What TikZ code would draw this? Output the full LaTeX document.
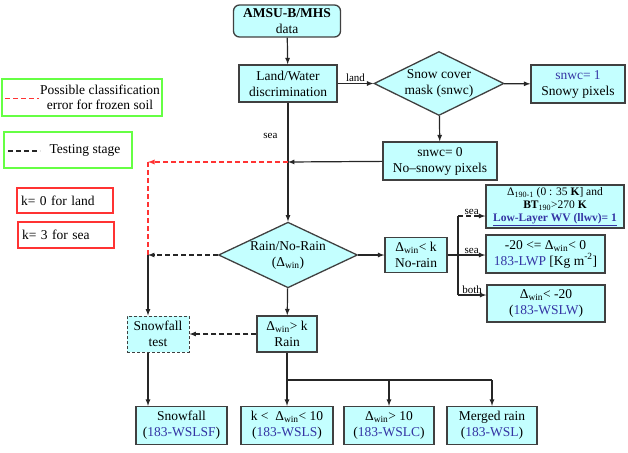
\documentclass[tikz,border=0pt]{standalone}
\usepackage{fontspec}
\setmainfont{Liberation Serif}
\usetikzlibrary{shapes.geometric}

\definecolor{boxfill}{HTML}{C4FFFF}
\definecolor{boxline}{HTML}{404040}
\definecolor{wsblue}{HTML}{3434A4}
\definecolor{keygreen}{HTML}{66FF44}
\definecolor{keyred}{HTML}{FF3333}

\tikzset{
  flowbox/.style = {draw = boxline, fill = boxfill, line width = 1.3pt, align = center,
                    inner sep = 1pt, font = \fontsize{13.5}{16}\selectfont},
  choice/.style  = {diamond, aspect = 2, draw = boxline, fill = boxfill, line width = 1.3pt,
                    align = center, inner sep = 0pt, font = \fontsize{13.5}{16}\selectfont},
  wire/.style    = {line width = 1.2pt, draw = black!85},
  testing/.style = {wire, dash pattern = on 5pt off 3pt},
  frozen/.style  = {line width = 1.3pt, draw = keyred, dash pattern = on 5pt off 3pt},
  keybox/.style  = {draw = keygreen, line width = 1.5pt},
  kbox/.style    = {draw = keyred, line width = 1.5pt, align = left, inner sep = 0pt,
                    font = \fontsize{13.5}{16}\selectfont},
  keytext/.style = {align = center, font = \fontsize{13.5}{15}\selectfont},
  branchlabel/.style = {inner sep = 1pt, font = \fontsize{11}{12}\selectfont}
}

\begin{document}
\begin{tikzpicture}[x = 1pt, y = -1pt, >= latex]
  \useasboundingbox (0, 0) rectangle (628, 452);

  \node[flowbox, rounded corners = 6pt, minimum width = 107, minimum height = 32] (amsu) at (287, 21)
    {\textbf{AMSU-B/MHS}\\data};
  \node[flowbox, minimum width = 98, minimum height = 37] (landwater) at (288, 83.5)
    {Land/Water\\discrimination};
  \node[choice, minimum width = 130, minimum height = 64] (snow) at (439, 83.5)
    {Snow cover\\mask (snwc)};
  \node[flowbox, minimum width = 94, minimum height = 38] (snowy) at (578, 84)
    {{\color{wsblue}snwc= 1}\\Snowy pixels};
  \node[flowbox, minimum width = 114, minimum height = 38] (nosnowy) at (440, 161)
    {snwc= 0\\No--snowy pixels};

  \node[choice, minimum width = 139, minimum height = 64] (rain) at (288, 255)
    {Rain/No-Rain\\(Δ\textsubscript{win})};
  \node[flowbox, minimum width = 62, minimum height = 35] (norain) at (416, 255)
    {Δ\textsubscript{win}< k\\No-rain};
  \node[flowbox, minimum width = 138, minimum height = 43, font = \fontsize{11.5}{13}\selectfont] (llwv) at (555, 206.5)
    {Δ\textsubscript{190-1} (0 : 35 \textbf{K}] and\\\textbf{BT}\textsubscript{190}>270 \textbf{K}\\{\color{wsblue}\textbf{\underline{Low-Layer WV (llwv)= 1}}}};
  \node[flowbox, minimum width = 119, minimum height = 38] (lwp) at (545.5, 254)
    {-20 <= Δ\textsubscript{win}< 0\\{\color{wsblue}183-LWP} [Kg m\textsuperscript{-2}]};
  \node[flowbox, minimum width = 118, minimum height = 37] (wslw) at (546, 303.5)
    {Δ\textsubscript{win}< -20\\({\color{wsblue}183-WSLW})};

  \node[flowbox, dash pattern = on 3pt off 2pt, line width = 1pt, minimum width = 62, minimum height = 36] (sftest) at (158, 334)
    {Snowfall\\test};
  \node[flowbox, minimum width = 60, minimum height = 36] (rainbox) at (287, 334)
    {Δ\textsubscript{win}> k\\Rain};

  \node[flowbox, minimum width = 91, minimum height = 38] (snowfall) at (181.5, 425.5)
    {Snowfall\\({\color{wsblue}183-WSLSF})};
  \node[flowbox, minimum width = 92, minimum height = 38] (wsls) at (287, 425.5)
    {k <\ \ Δ\textsubscript{win}< 10\\({\color{wsblue}183-WSLS})};
  \node[flowbox, minimum width = 90, minimum height = 38] (wslc) at (389, 425.5)
    {Δ\textsubscript{win}> 10\\({\color{wsblue}183-WSLC})};
  \node[flowbox, minimum width = 90, minimum height = 38] (wsl) at (492, 425.5)
    {Merged rain\\({\color{wsblue}183-WSL})};

  \node[keybox, minimum width = 160, minimum height = 37] (frozenkey) at (82, 97.5) {};
  \node[keytext] (frozentext) at (100, 97) {Possible classification\\error for frozen soil};
  \coordinate (frozendash) at (5, 98.5);
  \draw[frozen] (frozendash) -- ++(34, 0);
  \node[keybox, minimum width = 128, minimum height = 36] (testkey) at (68, 150) {};
  \node[keytext] (testtext) at (85, 150) {Testing stage};
  \coordinate (testdash) at (8, 151);
  \draw[testing] (testdash) -- ++(32, 0);
  \node[kbox, minimum width = 96, minimum height = 25, text width = 88] (kland) at (65, 200.5) {k= 0 for land};
  \node[kbox, minimum width = 96, minimum height = 26, text width = 88] (ksea) at (66, 235) {k= 3 for sea};

  \coordinate (seajoin) at (288, 162);
  \coordinate (redcorner) at (148, 162);
  \coordinate (sfjoin) at (148, 255);
  \coordinate (split) at (287, 380);
  \coordinate (branch) at (458, 255);
  \coordinate (llwvin) at (458, 216);
  \coordinate (bothin) at (458, 295);

  \draw[wire, ->] (amsu) -- (landwater);
  \draw[wire, ->] (landwater) -- node[branchlabel, above] {land} (snow);
  \draw[wire, ->] (snow) -- (snowy);
  \draw[wire, ->] (snow) -- (nosnowy);
  \draw[wire, ->] (nosnowy) -- (seajoin);
  \draw[wire, ->] (landwater) -- node[branchlabel, left = 9pt, pos = 0.28] {sea} (rain);

  \draw[frozen, ->] (seajoin) -- (redcorner);
  \draw[frozen] (redcorner) -- (sfjoin);
  \draw[testing, ->] (rain) -- (sfjoin);
  \draw[wire, ->] (sfjoin) -- (sfjoin |- sftest.north);
  \draw[wire, ->] (sftest.south -| sfjoin) -- (sfjoin |- snowfall.north);

  \draw[wire, ->] (rain) -- (rainbox);
  \draw[testing, ->] (rainbox) -- (sftest);
  \draw[wire] (rainbox) -- (split) -- (split -| wsl);
  \foreach \n in {wsls, wslc, wsl} {
    \draw[wire, ->] (split -| \n) -- (\n.north);
  }

  \draw[wire, ->] (rain) -- (norain);
  \draw[wire] (norain) -- (branch);
  \draw[wire] (llwvin) -- (bothin);
  \draw[testing, ->] (llwvin) -- node[branchlabel, above] {sea} (llwvin -| llwv.west);
  \draw[wire, ->] (branch) -- node[branchlabel, above] {sea} (branch -| lwp.west);
  \draw[wire, ->] (bothin) -- node[branchlabel, above] {both} (bothin -| wslw.west);
\end{tikzpicture}
\end{document}
